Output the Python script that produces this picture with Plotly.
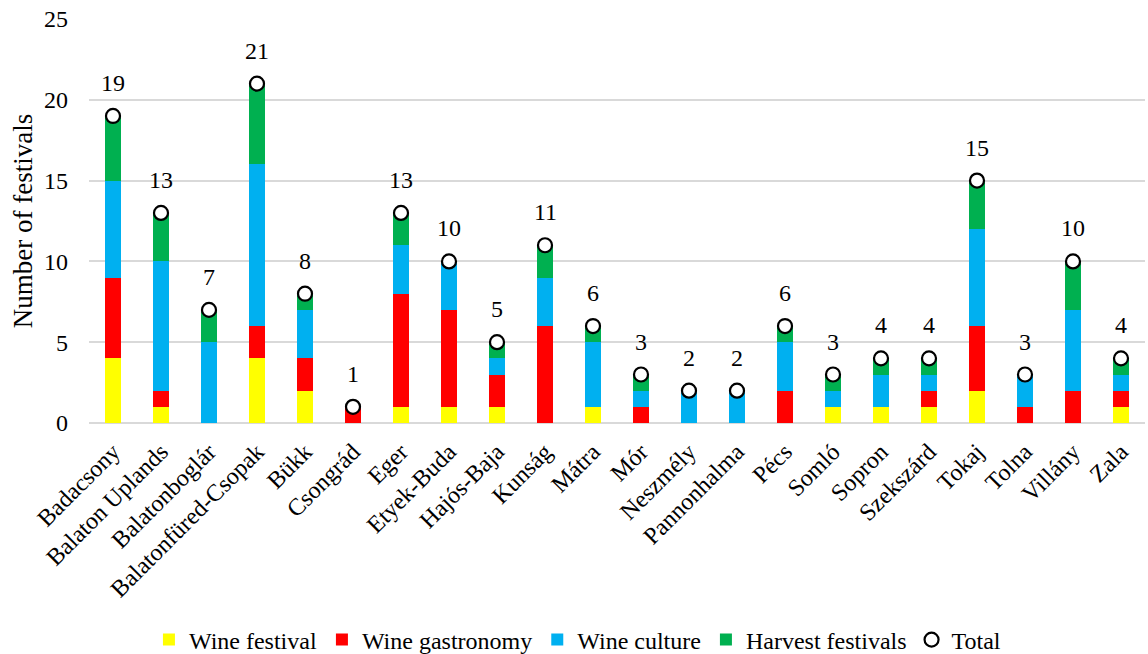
import plotly.graph_objects as go

regions = ["Badacsony", "Balaton Uplands", "Balatonboglár", "Balatonfüred-Csopak", "Bükk",
           "Csongrád", "Eger", "Etyek-Buda", "Hajós-Baja", "Kunság", "Mátra", "Mór",
           "Neszmély", "Pannonhalma", "Pécs", "Somló", "Sopron", "Szekszárd", "Tokaj",
           "Tolna", "Villány", "Zala"]

wine_festival =    [4, 1, 0, 4, 2, 0, 1, 1, 1, 0, 1, 0, 0, 0, 0, 1, 1, 1, 2, 0, 0, 1]
wine_gastronomy =  [5, 1, 0, 2, 2, 1, 7, 6, 2, 6, 0, 1, 0, 0, 2, 0, 0, 1, 4, 1, 2, 1]
wine_culture =     [6, 8, 5, 10, 3, 0, 3, 3, 1, 3, 4, 1, 2, 2, 3, 1, 2, 1, 6, 2, 5, 1]
harvest_festivals = [4, 3, 2, 5, 1, 0, 2, 0, 1, 2, 1, 1, 0, 0, 1, 1, 1, 1, 3, 0, 3, 1]
totals = [19, 13, 7, 21, 8, 1, 13, 10, 5, 11, 6, 3, 2, 2, 6, 3, 4, 4, 15, 3, 10, 4]

series = [
    ("Wine festival", wine_festival, "#FFFF00"),
    ("Wine gastronomy", wine_gastronomy, "#FF0000"),
    ("Wine culture", wine_culture, "#00B0F0"),
    ("Harvest festivals", harvest_festivals, "#00B050"),
]

FONT = "Liberation Serif"

fig = go.Figure()
for name, vals, color in series:
    fig.add_trace(go.Bar(x=regions, y=vals, name=name, marker=dict(color=color, line=dict(width=0))))

fig.add_trace(go.Scatter(
    x=regions, y=totals, name="Total", mode="markers",
    marker=dict(symbol="circle", size=14, color="white", line=dict(color="black", width=2.2)),
    cliponaxis=False,
))

for r, t in zip(regions, totals):
    fig.add_annotation(x=r, y=t, text=str(t), showarrow=False, yshift=33,
                       font=dict(family=FONT, size=24, color="#000000"))

fig.update_layout(
    width=1148, height=654,
    margin=dict(l=89, r=3, t=19, b=231),
    barmode="stack", bargap=0.68,
    plot_bgcolor="white", paper_bgcolor="white",
    font=dict(family=FONT, size=24, color="#000000"),
    showlegend=True,
    legend=dict(orientation="h", xref="container", yref="container",
                x=0.503, xanchor="center", y=0.0214, yanchor="middle",
                font=dict(family=FONT, size=24), traceorder="normal", itemclick=False),
)
fig.update_yaxes(range=[0, 25], dtick=5, showgrid=True, gridcolor="#D9D9D9", gridwidth=1.5,
                 zeroline=True, zerolinecolor="#D9D9D9", zerolinewidth=1.5,
                 showline=False, ticks="", ticklabelstandoff=20, automargin=False,
                 tickfont=dict(family=FONT, size=24),
                 title=dict(text="Number of festivals", font=dict(family=FONT, size=27), standoff=3))
fig.update_xaxes(range=[-0.5, len(regions) - 0.5], tickangle=-45, showgrid=False, showline=False,
                 ticks="", automargin=False, ticklabelstandoff=9,
                 tickfont=dict(family=FONT, size=24))

fig.write_html("out.html")
